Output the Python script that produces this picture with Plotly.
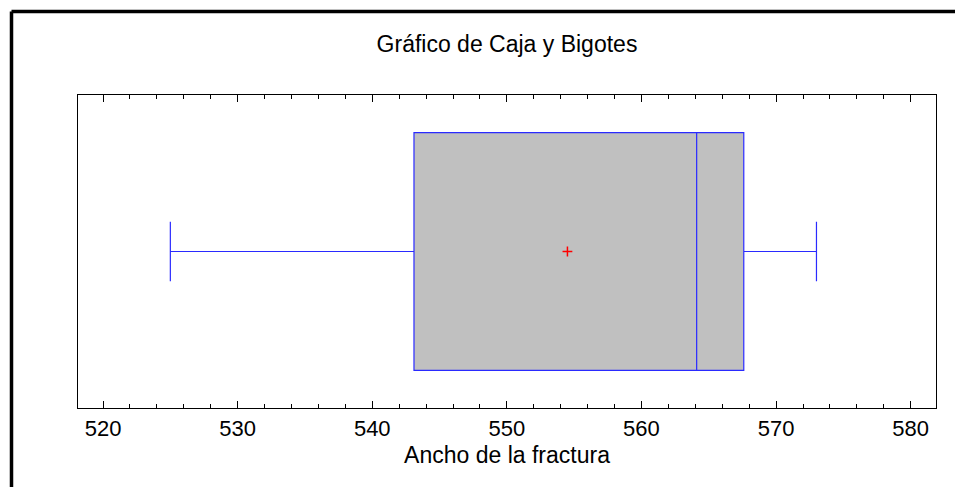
import plotly.graph_objects as go

# Data
q1 = [543.1]
median = [564.1]
q3 = [567.6]
lower_whisker = [525.0]
upper_whisker = [573.0]
mean_value = [554.5]
category = [0]

title_text = "Gráfico de Caja y Bigotes"
x_label = "Ancho de la fractura"
tick_values = [520, 530, 540, 550, 560, 570, 580]

# the page body adds an 8px offset, so the figure is 8px smaller and shifted
OFF = 8
W, H = 963 - OFF, 487 - OFF
L, R, T, B = 78 - OFF, 27, 95 - OFF, 79
pw, ph = W - L - R, H - T - B

font_family = "Liberation Sans, Arial, sans-serif"

fig = go.Figure()
fig.add_trace(go.Box(
    q1=q1, median=median, q3=q3,
    lowerfence=lower_whisker, upperfence=upper_whisker,
    y=category, orientation="h",
    fillcolor="#C0C0C0",
    line=dict(color="#2a2aff", width=1.2),
    width=0.76, whiskerwidth=0.25,
    boxpoints=False, showlegend=False, hoverinfo="x",
))
fig.add_trace(go.Scatter(
    x=mean_value, y=category, mode="markers",
    marker=dict(symbol="cross-thin", size=7, line=dict(color="#ff0000", width=1.5), color="#ff0000"),
    showlegend=False,
))

# outer frame (left and top black edges)
fx = (11.5 - 78) / pw
fy = (408 - 11.5) / ph
fig.add_shape(type="line", xref="paper", yref="paper", x0=fx, x1=fx, y0=-0.4, y1=fy,
              line=dict(color="black", width=3.5))
fig.add_shape(type="line", xref="paper", yref="paper", x0=fx, x1=1.2, y0=fy, y1=fy,
              line=dict(color="black", width=3.5))

fig.update_layout(
    width=W, height=H,
    margin=dict(l=L, r=R, t=T, b=B),
    paper_bgcolor="white", plot_bgcolor="white",
    font=dict(family=font_family, size=23, color="black"),
    title=dict(text=title_text, x=0.5, xref="paper", xanchor="center",
               y=1 - (44 - OFF) / H, yref="container", yanchor="middle",
               font=dict(family=font_family, size=23, color="black")),
    xaxis=dict(
        range=[518.14, 581.88],
        tickvals=tick_values,
        ticks="inside", ticklen=7, tickwidth=1.3, tickcolor="black",
        minor=dict(dtick=2, ticks="inside", ticklen=4, tickwidth=1, tickcolor="black"),
        showline=True, linecolor="black", linewidth=1.3, mirror="ticks",
        showgrid=False, zeroline=False,
        tickfont=dict(family=font_family, size=22),
        title=dict(text=x_label, standoff=7, font=dict(family=font_family, size=23)),
    ),
    yaxis=dict(
        range=[-0.5, 0.5], showticklabels=False, ticks="",
        showline=True, linecolor="black", linewidth=1.3, mirror=True,
        showgrid=False, zeroline=False,
    ),
)

fig.write_html("out.html")
